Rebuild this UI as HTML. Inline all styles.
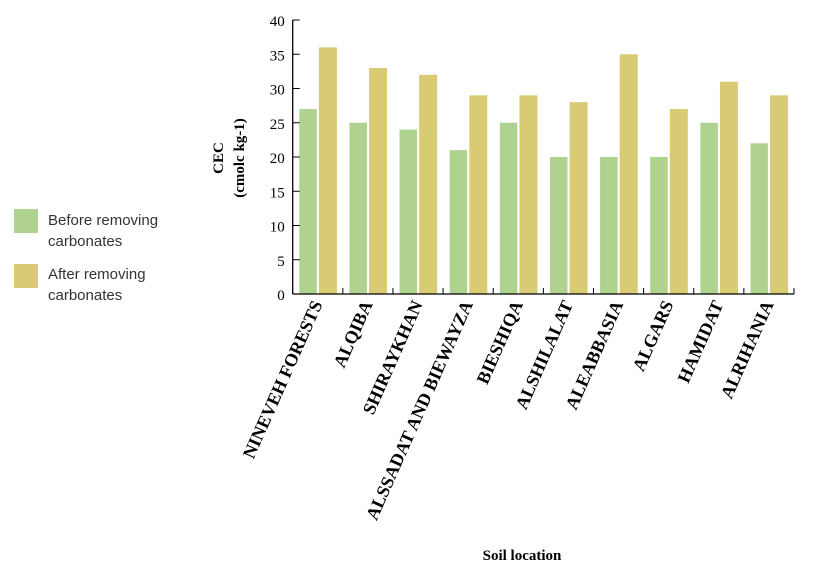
<!DOCTYPE html>
<html><head><meta charset="utf-8"><style>
html,body{margin:0;padding:0;background:#fff;width:816px;height:578px;overflow:hidden}
</style></head><body>
<svg id="chart" width="816" height="578" xmlns="http://www.w3.org/2000/svg">
<g id="legend" font-family="Liberation Sans, sans-serif" font-size="15" fill="#333">
<g>
<rect x="14" y="209" width="24" height="24" fill="#b0d28f"/>
<text x="48" y="225">Before removing</text><text x="48" y="246">carbonates</text></g>
<g>
<rect x="14" y="264" width="24" height="24" fill="#d8cb73"/>
<text x="48" y="279">After removing</text><text x="48" y="300">carbonates</text></g>
</g>
<g font-family="Liberation Serif, serif" font-weight="bold" font-size="15" text-anchor="middle">
<text transform="translate(223,158) rotate(-90)">CEC</text>
<text transform="translate(244,158) rotate(-90)">(cmolc  kg-1)</text>
</g>
<text x="522" y="560" font-family="Liberation Serif, serif" font-weight="bold" font-size="15" text-anchor="middle">Soil location</text>
<g id="plot"></g>
</svg>
<script>
const categories=["NINEVEH FORESTS","ALQIBA","SHIRAYKHAN","ALSSADAT AND BIEWAYZA","BIESHIQA","ALSHILALAT","ALEABBASIA","ALGARS","HAMIDAT","ALRIHANIA"];
const beforeValues=[27,25,24,21,25,20,20,20,25,22];
const afterValues=[36,33,32,29,29,28,35,27,31,29];
const yTicks=[0,5,10,15,20,25,30,35,40];
const NS="http://www.w3.org/2000/svg";
const x0=292.7,x1=794,y0=294,y1=20,yMax=40;
const bw=(x1-x0)/categories.length;
const y=v=>y0-(y0-y1)*v/yMax;
const xc=i=>x0+bw*i;
const g=document.getElementById('plot');
function el(t,a){const e=document.createElementNS(NS,t);for(const k in a)e.setAttribute(k,a[k]);g.appendChild(e);return e;}
categories.forEach((c,i)=>{
  const b=el('rect',{x:xc(i)+6.6,y:y(beforeValues[i]),width:17.5,height:y0-y(beforeValues[i]),fill:'#b0d28f'});
  
  
  const a=el('rect',{x:xc(i)+26.2,y:y(afterValues[i]),width:18,height:y0-y(afterValues[i]),fill:'#d8cb73'});
  
  
  const tk=el('line',{x1:xc(i+1),x2:xc(i+1),y1:y0,y2:y0-6,stroke:'#000','stroke-width':1});
  
  
  const cx=xc(i)+bw/2+5;
  const t=el('text',{transform:`translate(${cx},${y0+10}) rotate(-66)`,'text-anchor':'end','font-family':'Liberation Serif, serif','font-weight':'bold','font-size':'18'});
  t.textContent=c;
  
  
});
yTicks.forEach(v=>{
  const l=el('line',{x1:x0,x2:x0+7,y1:y(v),y2:y(v),stroke:'#000','stroke-width':1});
  
  
  const t=el('text',{x:x0-8,y:y(v)+6,'text-anchor':'end','font-family':'Liberation Serif, serif','font-size':'15'});
  t.textContent=v;
  
  
});
const ya=el('line',{x1:x0,x2:x0,y1:y1,y2:y0,stroke:'#000','stroke-width':1.3});


const xa=el('line',{x1:x0,x2:x1,y1:y0,y2:y0,stroke:'#000','stroke-width':1.3});


</script>
</body></html>
